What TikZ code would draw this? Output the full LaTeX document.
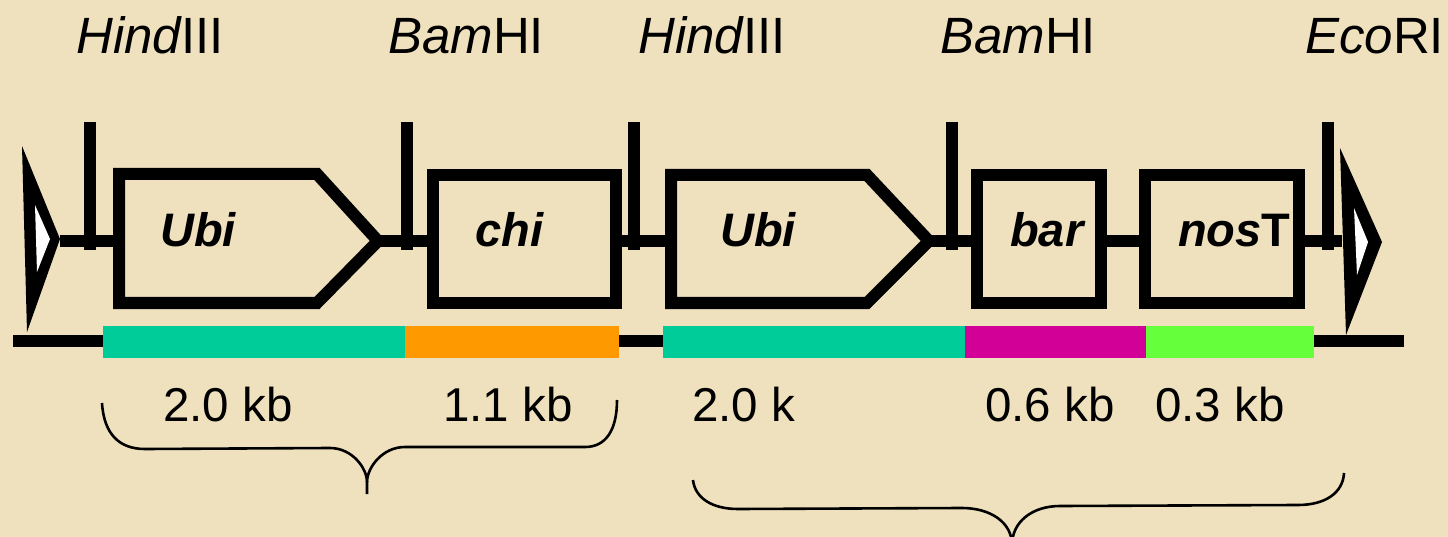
\documentclass[tikz,border=0pt]{standalone}
\usepackage{fontspec}
\setmainfont{Liberation Sans}
\definecolor{bg}{RGB}{239,225,190}
\definecolor{teal1}{RGB}{0,204,153}
\definecolor{orange1}{RGB}{255,153,0}
\definecolor{mag1}{RGB}{210,0,150}
\definecolor{green1}{RGB}{102,255,60}
\begin{document}
\begin{tikzpicture}[x=1pt,y=-1pt,
  heavy/.style={line width=12pt, line join=miter, line cap=butt},
  sitetick/.style={line width=12pt, line cap=butt},
  brace/.style={line width=2.6pt},
  sitelabel/.style={anchor=base west, inner sep=0pt, font=\fontsize{51}{60}\selectfont},
  genelabel/.style={anchor=base west, inner sep=0pt, font=\fontsize{47}{56}\selectfont\bfseries\itshape},
  sizelabel/.style={anchor=base west, inner sep=0pt, font=\fontsize{47.5}{56}\selectfont}]
\useasboundingbox (0,0) rectangle (1448,537);
\fill[bg] (0,0) rectangle (1448,537);

% ---- coordinates ----
\coordinate (L0) at (60,241);
\coordinate (A0) at (119,241);
\coordinate (A1) at (378,241);
\coordinate (B0) at (433,241);
\coordinate (B1) at (616,241);
\coordinate (C0) at (671,241);
\coordinate (C1) at (929,241);
\coordinate (D0) at (977,241);
\coordinate (D1) at (1101,241);
\coordinate (E0) at (1145,241);
\coordinate (E1) at (1299,241);
\coordinate (R0) at (1342,241);

% backbone
\draw[heavy] (L0) -- (A0);
\draw[heavy] (A1) -- (B0);
\draw[heavy] (B1) -- (C0);
\draw[heavy] (C1) -- (D0);
\draw[heavy] (D1) -- (E0);
\draw[heavy] (E1) -- (R0);

% restriction site ticks
\foreach \x/\n in {90/t1,407/t2,634/t3,952/t4,1328/t5}{
  \coordinate (\n top) at (\x,122);
  \coordinate (\n bot) at (\x,250);
  \draw[sitetick] (\n top) -- (\n bot);
}

% gene boxes
\draw[heavy] (119,174) -- (317,174) -- (A1) -- (317,303) -- (119,303) -- cycle;
\draw[heavy] (433,175) rectangle (616,303);
\draw[heavy] (671,175) -- (867,175) -- (C1) -- (867,303) -- (671,303) -- cycle;
\draw[heavy] (977,175) rectangle (1101,303);
\draw[heavy] (1145,175) rectangle (1299,303);

% border triangles
\fill[black] (22,146) -- (60,239) -- (27,332) -- cycle;
\fill[white] (35,205) -- (50,239) -- (37,272) -- cycle;
\fill[black] (1340,148) -- (1382,242) -- (1346,335) -- cycle;
\fill[white] (1354,208) -- (1368,242) -- (1357,275) -- cycle;

% bottom map bar
\coordinate (m0) at (13,341);
\coordinate (m1) at (104,341);
\coordinate (m2) at (618,341);
\coordinate (m3) at (664,341);
\coordinate (m4) at (1313,341);
\coordinate (m5) at (1404,341);
\draw[heavy] (m0) -- (m1);
\draw[heavy] (m2) -- (m3);
\draw[heavy] (m4) -- (m5);
\fill[teal1] (103,326) rectangle (406,358);
\fill[orange1] (405,326) rectangle (619,358);
\fill[teal1] (663,326) rectangle (966,358);
\fill[mag1] (965,326) rectangle (1147,358);
\fill[green1] (1146,326) rectangle (1314,358);

% site labels
\node[sitelabel] (s1) at (76,54) {\itshape Hind\upshape III};
\node[sitelabel] (s2) at (388,54) {\itshape Bam\upshape HI};
\node[sitelabel] (s3) at (638,54) {\itshape Hind\upshape III};
\node[sitelabel] (s4) at (940,54) {\itshape Bam\upshape HI};
\node[sitelabel] (s5) at (1305,54) {\itshape Eco\upshape RI};

% gene labels
\node[genelabel] (g1) at (160,247) {Ubi};
\node[genelabel] (g2) at (475,247) {chi};
\node[genelabel] (g3) at (720,247) {Ubi};
\node[genelabel] (g4) at (1010,247) {bar};
\node[genelabel] (g5) at (1178,247) {nos\upshape T};

% size labels
\node[sizelabel] (k1) at (163,421) {2.0 kb};
\node[sizelabel] (k2) at (443,421) {1.1 kb};
\node[sizelabel] (k3) at (692,421) {2.0 k};
\node[sizelabel] (k4) at (985,421) {0.6 kb};
\node[sizelabel] (k5) at (1155,421) {0.3 kb};

% braces
\draw[brace] (102,403) .. controls (104,435) and (120,449) .. (145,449)
  -- (330,448) .. controls (352,448) and (367,468) .. (367,482) -- (367,494);
\draw[brace] (367,482) .. controls (367,468) and (382,447) .. (405,447)
  -- (585,447) .. controls (606,447) and (617,430) .. (617,400);
\draw[brace] (693,480) .. controls (695,498) and (712,509) .. (738,509)
  -- (962,508) .. controls (990,508) and (1012,522) .. (1012,545);
\draw[brace] (1012,545) .. controls (1012,522) and (1032,506) .. (1060,506)
  -- (1298,505) .. controls (1325,505) and (1343,493) .. (1344,473);
\end{tikzpicture}
\end{document}
